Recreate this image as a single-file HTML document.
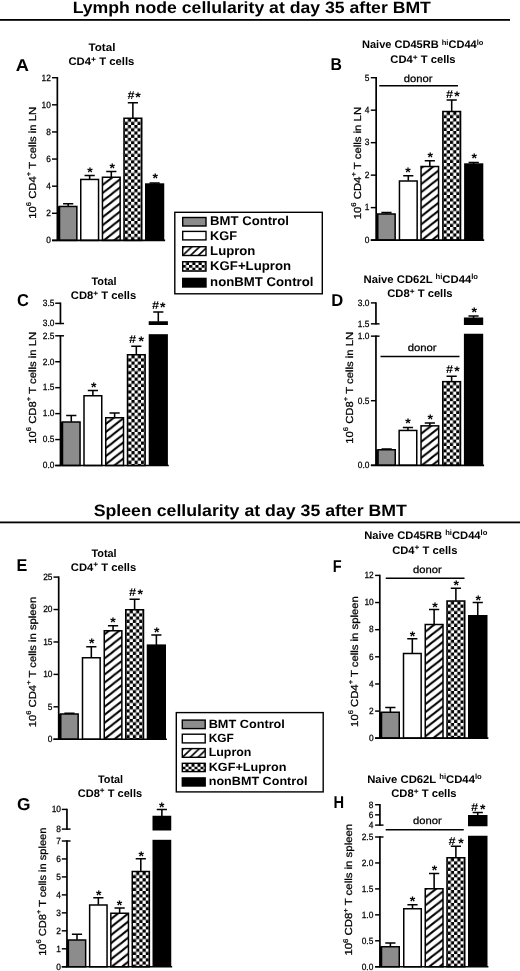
<!DOCTYPE html>
<html lang="en"><head><meta charset="utf-8"><title>Lymph node and spleen cellularity at day 35 after BMT</title>
<style>html,body{margin:0;padding:0;background:#fff}svg{display:block}text{font-family:'Liberation Sans',Arial,Helvetica,sans-serif;fill:#000;text-rendering:geometricPrecision}</style>
</head><body>
<svg width="520" height="971" viewBox="0 0 520 971">
<defs>
<pattern id="hatch" patternUnits="userSpaceOnUse" width="10.242" height="8.05" x="0" y="0"><rect width="10.242" height="8.05" fill="#fff"/><path d="M-10.242 8.05L10.242 -8.05M-10.242 16.1L20.483 -8.05M0 16.1L20.483 0" stroke="#000" stroke-width="1.95" fill="none"/></pattern>
<pattern id="ck0" patternUnits="userSpaceOnUse" width="6.4" height="6.4" x="124.70" y="118.60"><rect width="6.4" height="6.4" fill="#000"/><rect width="3.2" height="3.2" fill="#fff"/><rect x="3.2" y="3.2" width="3.2" height="3.2" fill="#fff"/></pattern>
<pattern id="ck1" patternUnits="userSpaceOnUse" width="6.4" height="6.4" x="443.55" y="111.85"><rect width="6.4" height="6.4" fill="#000"/><rect width="3.2" height="3.2" fill="#fff"/><rect x="3.2" y="3.2" width="3.2" height="3.2" fill="#fff"/></pattern>
<pattern id="ck2" patternUnits="userSpaceOnUse" width="6.4" height="6.4" x="128.20" y="355.10"><rect width="6.4" height="6.4" fill="#000"/><rect width="3.2" height="3.2" fill="#fff"/><rect x="3.2" y="3.2" width="3.2" height="3.2" fill="#fff"/></pattern>
<pattern id="ck3" patternUnits="userSpaceOnUse" width="6.4" height="6.4" x="443.45" y="382.00"><rect width="6.4" height="6.4" fill="#000"/><rect width="3.2" height="3.2" fill="#fff"/><rect x="3.2" y="3.2" width="3.2" height="3.2" fill="#fff"/></pattern>
<pattern id="ck4" patternUnits="userSpaceOnUse" width="6.4" height="6.4" x="126.45" y="610.10"><rect width="6.4" height="6.4" fill="#000"/><rect width="3.2" height="3.2" fill="#fff"/><rect x="3.2" y="3.2" width="3.2" height="3.2" fill="#fff"/></pattern>
<pattern id="ck5" patternUnits="userSpaceOnUse" width="6.4" height="6.4" x="447.70" y="601.35"><rect width="6.4" height="6.4" fill="#000"/><rect width="3.2" height="3.2" fill="#fff"/><rect x="3.2" y="3.2" width="3.2" height="3.2" fill="#fff"/></pattern>
<pattern id="ck6" patternUnits="userSpaceOnUse" width="6.4" height="6.4" x="132.95" y="871.85"><rect width="6.4" height="6.4" fill="#000"/><rect width="3.2" height="3.2" fill="#fff"/><rect x="3.2" y="3.2" width="3.2" height="3.2" fill="#fff"/></pattern>
<pattern id="ck7" patternUnits="userSpaceOnUse" width="6.4" height="6.4" x="447.70" y="858.10"><rect width="6.4" height="6.4" fill="#000"/><rect width="3.2" height="3.2" fill="#fff"/><rect x="3.2" y="3.2" width="3.2" height="3.2" fill="#fff"/></pattern>
<pattern id="hatchL" patternUnits="userSpaceOnUse" width="7.800" height="7.410" x="183.4" y="247.4"><rect width="7.800" height="7.410" fill="#fff"/><path d="M-7.800 7.410L7.800 -7.410M-7.800 14.820L15.600 -7.410M0 14.820L15.600 0" stroke="#000" stroke-width="1.6" fill="none"/></pattern>
<pattern id="chkL" patternUnits="userSpaceOnUse" width="6.3" height="5.5" x="182.8" y="262.2"><rect width="6.3" height="5.5" fill="#000"/><rect width="3.15" height="2.75" fill="#fff"/><rect x="3.15" y="2.75" width="3.15" height="2.75" fill="#fff"/></pattern>
<pattern id="hatchM" patternUnits="userSpaceOnUse" width="7.800" height="7.410" x="183.0" y="749.3"><rect width="7.800" height="7.410" fill="#fff"/><path d="M-7.800 7.410L7.800 -7.410M-7.800 14.820L15.600 -7.410M0 14.820L15.600 0" stroke="#000" stroke-width="1.6" fill="none"/></pattern>
<pattern id="chkM" patternUnits="userSpaceOnUse" width="6.0" height="5.2" x="182.5" y="764.1"><rect width="6.0" height="5.2" fill="#000"/><rect width="3.0" height="2.6" fill="#fff"/><rect x="3.0" y="2.6" width="3.0" height="2.6" fill="#fff"/></pattern>
</defs>
<rect width="520" height="971" fill="#fff"/>
<text x="72.70" y="13.20" font-size="16.4" font-weight="bold" textLength="358.20" lengthAdjust="spacingAndGlyphs">Lymph node cellularity at day 35 after BMT</text>
<rect x="0" y="19" width="510" height="1.8" fill="#000"/>
<text x="93.70" y="516.00" font-size="16.4" font-weight="bold" textLength="313.20" lengthAdjust="spacingAndGlyphs">Spleen cellularity at day 35 after BMT</text>
<rect x="0" y="521.5" width="520" height="1.8" fill="#000"/>
<rect x="59.50" y="206.45" width="17.35" height="33.95" fill="#8c8c8c" stroke="#000" stroke-width="1.5"/>
<path d="M63.07 203.75H73.27M68.17 203.75V206.30" stroke="#000" stroke-width="1.55" fill="none"/>
<rect x="80.75" y="179.45" width="17.80" height="60.95" fill="#fff" stroke="#000" stroke-width="1.5"/>
<path d="M84.55 175.50H94.75M89.65 175.50V179.30" stroke="#000" stroke-width="1.55" fill="none"/>
<rect x="102.45" y="177.25" width="17.70" height="63.15" fill="url(#hatch)" stroke="#000" stroke-width="1.5"/>
<path d="M106.20 171.50H116.40M111.30 171.50V177.10" stroke="#000" stroke-width="1.55" fill="none"/>
<rect x="124.00" y="118.25" width="17.75" height="122.15" fill="url(#ck0)" stroke="#000" stroke-width="1.5"/>
<path d="M127.78 102.70H137.97M132.88 102.70V118.10" stroke="#000" stroke-width="1.55" fill="none"/>
<rect x="145.00" y="183.30" width="19.25" height="57.10" fill="#000"/>
<path d="M149.53 183.00H159.72M154.62 183.00V183.90" stroke="#000" stroke-width="1.55" fill="none"/>
<rect x="57.35" y="206.20" width="2.00" height="34.20" fill="#000"/>
<path d="M57.35 77.00V241.10" stroke="#000" stroke-width="1.7" fill="none"/>
<path d="M52.00 77.70H57.35" stroke="#000" stroke-width="1.45" fill="none"/>
<text x="41.49" y="80.50" font-size="9.1" textLength="9.31" lengthAdjust="spacingAndGlyphs" stroke="#000" stroke-width="0.25">12</text>
<path d="M52.00 104.82H57.35" stroke="#000" stroke-width="1.45" fill="none"/>
<text x="41.49" y="107.62" font-size="9.1" textLength="9.31" lengthAdjust="spacingAndGlyphs" stroke="#000" stroke-width="0.25">10</text>
<path d="M52.00 131.94H57.35" stroke="#000" stroke-width="1.45" fill="none"/>
<text x="46.15" y="134.74" font-size="9.1" textLength="4.65" lengthAdjust="spacingAndGlyphs" stroke="#000" stroke-width="0.25">8</text>
<path d="M52.00 159.06H57.35" stroke="#000" stroke-width="1.45" fill="none"/>
<text x="46.15" y="161.86" font-size="9.1" textLength="4.65" lengthAdjust="spacingAndGlyphs" stroke="#000" stroke-width="0.25">6</text>
<path d="M52.00 186.18H57.35" stroke="#000" stroke-width="1.45" fill="none"/>
<text x="46.15" y="188.98" font-size="9.1" textLength="4.65" lengthAdjust="spacingAndGlyphs" stroke="#000" stroke-width="0.25">4</text>
<path d="M52.00 213.30H57.35" stroke="#000" stroke-width="1.45" fill="none"/>
<text x="46.15" y="216.10" font-size="9.1" textLength="4.65" lengthAdjust="spacingAndGlyphs" stroke="#000" stroke-width="0.25">2</text>
<path d="M52.00 240.42H57.35" stroke="#000" stroke-width="1.45" fill="none"/>
<text x="46.15" y="243.22" font-size="9.1" textLength="4.65" lengthAdjust="spacingAndGlyphs" stroke="#000" stroke-width="0.25">0</text>
<path d="M52.00 240.40H165.15" stroke="#000" stroke-width="1.7" fill="none"/>
<text x="87.30" y="176.52" font-size="14" font-weight="bold">*</text>
<text x="109.40" y="173.42" font-size="14" font-weight="bold">*</text>
<text x="152.40" y="183.12" font-size="14" font-weight="bold">*</text>
<text x="127.45" y="98.80" font-size="11.5" font-weight="bold" textLength="7.10" lengthAdjust="spacingAndGlyphs">#</text>
<text x="135.30" y="101.62" font-size="14" font-weight="bold">*</text>
<text x="88.45" y="50.90" font-size="11.0" font-weight="bold" textLength="26.95" lengthAdjust="spacingAndGlyphs">Total</text>
<text x="68.45" y="65.10" font-size="11.0" font-weight="bold" textLength="65.95" lengthAdjust="spacingAndGlyphs">CD4<tspan dy="-3.3" font-size="8.2">+</tspan><tspan dy="3.3"> T cells</tspan></text>
<text x="15.70" y="71.05" font-size="17.2" font-weight="bold" textLength="13.20" lengthAdjust="spacingAndGlyphs">A</text>
<text transform="translate(35.70 218.70) rotate(-90)" font-size="10.2" stroke="#000" stroke-width="0.25" textLength="111.80" lengthAdjust="spacingAndGlyphs">10<tspan dy="-4.5" font-size="6.8">6</tspan><tspan dy="4.5"> CD4</tspan><tspan dy="-4.5" font-size="6.8">+</tspan><tspan dy="4.5"> T cells in LN</tspan></text>
<rect x="377.75" y="214.00" width="17.40" height="26.10" fill="#8c8c8c" stroke="#000" stroke-width="1.5"/>
<path d="M381.35 212.60H391.55M386.45 212.60V213.85" stroke="#000" stroke-width="1.55" fill="none"/>
<rect x="399.45" y="181.00" width="17.70" height="59.10" fill="#fff" stroke="#000" stroke-width="1.5"/>
<path d="M403.20 175.80H413.40M408.30 175.80V180.85" stroke="#000" stroke-width="1.55" fill="none"/>
<rect x="421.05" y="166.50" width="17.50" height="73.60" fill="url(#hatch)" stroke="#000" stroke-width="1.5"/>
<path d="M424.70 160.80H434.90M429.80 160.80V166.35" stroke="#000" stroke-width="1.55" fill="none"/>
<rect x="442.85" y="111.50" width="17.70" height="128.60" fill="url(#ck1)" stroke="#000" stroke-width="1.5"/>
<path d="M446.60 100.00H456.80M451.70 100.00V111.35" stroke="#000" stroke-width="1.55" fill="none"/>
<rect x="464.10" y="163.30" width="19.20" height="76.80" fill="#000"/>
<path d="M468.60 162.40H478.80M473.70 162.40V163.90" stroke="#000" stroke-width="1.55" fill="none"/>
<rect x="376.15" y="213.75" width="1.45" height="26.35" fill="#000"/>
<path d="M376.15 77.00V240.80" stroke="#000" stroke-width="1.7" fill="none"/>
<path d="M370.80 77.70H376.15" stroke="#000" stroke-width="1.45" fill="none"/>
<text x="364.85" y="80.50" font-size="9.1" textLength="4.65" lengthAdjust="spacingAndGlyphs" stroke="#000" stroke-width="0.25">5</text>
<path d="M370.80 110.18H376.15" stroke="#000" stroke-width="1.45" fill="none"/>
<text x="364.85" y="112.98" font-size="9.1" textLength="4.65" lengthAdjust="spacingAndGlyphs" stroke="#000" stroke-width="0.25">4</text>
<path d="M370.80 142.66H376.15" stroke="#000" stroke-width="1.45" fill="none"/>
<text x="364.85" y="145.46" font-size="9.1" textLength="4.65" lengthAdjust="spacingAndGlyphs" stroke="#000" stroke-width="0.25">3</text>
<path d="M370.80 175.14H376.15" stroke="#000" stroke-width="1.45" fill="none"/>
<text x="364.85" y="177.94" font-size="9.1" textLength="4.65" lengthAdjust="spacingAndGlyphs" stroke="#000" stroke-width="0.25">2</text>
<path d="M370.80 207.62H376.15" stroke="#000" stroke-width="1.45" fill="none"/>
<text x="364.85" y="210.42" font-size="9.1" textLength="4.65" lengthAdjust="spacingAndGlyphs" stroke="#000" stroke-width="0.25">1</text>
<path d="M370.80 240.10H376.15" stroke="#000" stroke-width="1.45" fill="none"/>
<text x="364.85" y="242.90" font-size="9.1" textLength="4.65" lengthAdjust="spacingAndGlyphs" stroke="#000" stroke-width="0.25">0</text>
<path d="M370.80 240.10H484.20" stroke="#000" stroke-width="1.7" fill="none"/>
<text x="405.20" y="176.62" font-size="14" font-weight="bold">*</text>
<text x="427.50" y="162.12" font-size="14" font-weight="bold">*</text>
<text x="471.45" y="162.62" font-size="14" font-weight="bold">*</text>
<text x="446.00" y="97.80" font-size="11.5" font-weight="bold" textLength="7.10" lengthAdjust="spacingAndGlyphs">#</text>
<text x="454.15" y="100.92" font-size="14" font-weight="bold">*</text>
<text x="403.70" y="81.60" font-size="10.2" textLength="28.70" lengthAdjust="spacingAndGlyphs" stroke="#000" stroke-width="0.25">donor</text>
<path d="M379.30 85.80H458.00" stroke="#000" stroke-width="1.4" fill="none"/>
<text x="362.00" y="48.40" font-size="11.0" font-weight="bold" textLength="121.40" lengthAdjust="spacingAndGlyphs">Naive CD45RB <tspan dy="-3.8" font-size="7.5">hi</tspan><tspan dy="3.8">CD44</tspan><tspan dy="-3.8" font-size="7.5">lo</tspan></text>
<text x="390.30" y="63.20" font-size="11.0" font-weight="bold" textLength="65.30" lengthAdjust="spacingAndGlyphs">CD4<tspan dy="-3.3" font-size="8.2">+</tspan><tspan dy="3.3"> T cells</tspan></text>
<text x="330.50" y="69.70" font-size="17.2" font-weight="bold" textLength="11.40" lengthAdjust="spacingAndGlyphs">B</text>
<text transform="translate(360.70 219.30) rotate(-90)" font-size="10.2" stroke="#000" stroke-width="0.25" textLength="112.40" lengthAdjust="spacingAndGlyphs">10<tspan dy="-4.5" font-size="6.8">6</tspan><tspan dy="4.5"> CD4</tspan><tspan dy="-4.5" font-size="6.8">+</tspan><tspan dy="4.5"> T cells in LN</tspan></text>
<rect x="62.50" y="422.00" width="17.55" height="43.50" fill="#8c8c8c" stroke="#000" stroke-width="1.5"/>
<path d="M66.18 415.50H76.38M71.28 415.50V421.85" stroke="#000" stroke-width="1.55" fill="none"/>
<rect x="84.00" y="395.75" width="17.75" height="69.75" fill="#fff" stroke="#000" stroke-width="1.5"/>
<path d="M87.78 390.50H97.97M92.88 390.50V395.60" stroke="#000" stroke-width="1.55" fill="none"/>
<rect x="105.75" y="417.75" width="17.75" height="47.75" fill="url(#hatch)" stroke="#000" stroke-width="1.5"/>
<path d="M109.53 413.00H119.72M114.62 413.00V417.60" stroke="#000" stroke-width="1.55" fill="none"/>
<rect x="127.50" y="354.75" width="17.65" height="110.75" fill="url(#ck2)" stroke="#000" stroke-width="1.5"/>
<path d="M131.22 346.25H141.42M136.32 346.25V354.60" stroke="#000" stroke-width="1.55" fill="none"/>
<rect x="148.70" y="334.20" width="19.20" height="131.30" fill="#000"/>
<rect x="148.70" y="321.25" width="19.20" height="3.75" fill="#000"/>
<path d="M153.20 312.00H163.40M158.30 312.00V321.85" stroke="#000" stroke-width="1.55" fill="none"/>
<rect x="60.45" y="421.75" width="1.90" height="43.75" fill="#000"/>
<path d="M60.45 302.50V324.20" stroke="#000" stroke-width="1.7" fill="none"/>
<path d="M60.45 335.10V466.20" stroke="#000" stroke-width="1.7" fill="none"/>
<path d="M55.20 303.20H60.45" stroke="#000" stroke-width="1.45" fill="none"/>
<text x="42.76" y="306.00" font-size="9.1" textLength="11.64" lengthAdjust="spacingAndGlyphs" stroke="#000" stroke-width="0.25">3.5</text>
<path d="M55.20 323.50H64.05" stroke="#000" stroke-width="1.45" fill="none"/>
<text x="42.76" y="326.30" font-size="9.1" textLength="11.64" lengthAdjust="spacingAndGlyphs" stroke="#000" stroke-width="0.25">3.0</text>
<path d="M55.20 335.80H64.05" stroke="#000" stroke-width="1.45" fill="none"/>
<text x="42.76" y="338.60" font-size="9.1" textLength="11.64" lengthAdjust="spacingAndGlyphs" stroke="#000" stroke-width="0.25">2.5</text>
<path d="M55.20 361.74H60.45" stroke="#000" stroke-width="1.45" fill="none"/>
<text x="42.76" y="364.54" font-size="9.1" textLength="11.64" lengthAdjust="spacingAndGlyphs" stroke="#000" stroke-width="0.25">2.0</text>
<path d="M55.20 387.68H60.45" stroke="#000" stroke-width="1.45" fill="none"/>
<text x="42.76" y="390.48" font-size="9.1" textLength="11.64" lengthAdjust="spacingAndGlyphs" stroke="#000" stroke-width="0.25">1.5</text>
<path d="M55.20 413.62H60.45" stroke="#000" stroke-width="1.45" fill="none"/>
<text x="42.76" y="416.42" font-size="9.1" textLength="11.64" lengthAdjust="spacingAndGlyphs" stroke="#000" stroke-width="0.25">1.0</text>
<path d="M55.20 439.56H60.45" stroke="#000" stroke-width="1.45" fill="none"/>
<text x="42.76" y="442.36" font-size="9.1" textLength="11.64" lengthAdjust="spacingAndGlyphs" stroke="#000" stroke-width="0.25">0.5</text>
<path d="M55.20 465.50H60.45" stroke="#000" stroke-width="1.45" fill="none"/>
<text x="42.76" y="468.30" font-size="9.1" textLength="11.64" lengthAdjust="spacingAndGlyphs" stroke="#000" stroke-width="0.25">0.0</text>
<path d="M55.20 465.50H168.80" stroke="#000" stroke-width="1.7" fill="none"/>
<text x="90.95" y="392.32" font-size="14" font-weight="bold">*</text>
<text x="129.00" y="343.30" font-size="11.5" font-weight="bold" textLength="7.10" lengthAdjust="spacingAndGlyphs">#</text>
<text x="138.50" y="345.62" font-size="14" font-weight="bold">*</text>
<text x="151.95" y="309.00" font-size="11.5" font-weight="bold" textLength="7.10" lengthAdjust="spacingAndGlyphs">#</text>
<text x="160.00" y="312.42" font-size="14" font-weight="bold">*</text>
<text x="91.40" y="285.30" font-size="11.0" font-weight="bold" textLength="25.20" lengthAdjust="spacingAndGlyphs">Total</text>
<text x="70.80" y="299.40" font-size="11.0" font-weight="bold" textLength="65.40" lengthAdjust="spacingAndGlyphs">CD8<tspan dy="-3.3" font-size="8.2">+</tspan><tspan dy="3.3"> T cells</tspan></text>
<text x="16.90" y="306.30" font-size="17.2" font-weight="bold" textLength="11.90" lengthAdjust="spacingAndGlyphs">C</text>
<text transform="translate(35.70 443.70) rotate(-90)" font-size="10.2" stroke="#000" stroke-width="0.25" textLength="111.80" lengthAdjust="spacingAndGlyphs">10<tspan dy="-4.5" font-size="6.8">6</tspan><tspan dy="4.5"> CD8</tspan><tspan dy="-4.5" font-size="6.8">+</tspan><tspan dy="4.5"> T cells in LN</tspan></text>
<rect x="378.05" y="449.75" width="17.20" height="15.55" fill="#8c8c8c" stroke="#000" stroke-width="1.5"/>
<path d="M381.55 448.90H391.75M386.65 448.90V449.60" stroke="#000" stroke-width="1.55" fill="none"/>
<rect x="399.15" y="430.45" width="17.60" height="34.85" fill="#fff" stroke="#000" stroke-width="1.5"/>
<path d="M402.85 427.50H413.05M407.95 427.50V430.30" stroke="#000" stroke-width="1.55" fill="none"/>
<rect x="421.05" y="425.85" width="17.60" height="39.45" fill="url(#hatch)" stroke="#000" stroke-width="1.5"/>
<path d="M424.75 423.00H434.95M429.85 423.00V425.70" stroke="#000" stroke-width="1.55" fill="none"/>
<rect x="442.75" y="381.65" width="17.75" height="83.65" fill="url(#ck3)" stroke="#000" stroke-width="1.5"/>
<path d="M446.52 376.25H456.73M451.62 376.25V381.50" stroke="#000" stroke-width="1.55" fill="none"/>
<rect x="463.90" y="333.75" width="19.30" height="131.55" fill="#000"/>
<rect x="463.90" y="317.50" width="19.30" height="7.50" fill="#000"/>
<path d="M468.45 316.00H478.65M473.55 316.00V318.10" stroke="#000" stroke-width="1.55" fill="none"/>
<rect x="375.95" y="449.50" width="1.95" height="15.80" fill="#000"/>
<path d="M375.95 302.20V324.55" stroke="#000" stroke-width="1.7" fill="none"/>
<path d="M375.95 335.45V466.00" stroke="#000" stroke-width="1.7" fill="none"/>
<path d="M370.90 302.90H375.95" stroke="#000" stroke-width="1.45" fill="none"/>
<text x="357.86" y="305.70" font-size="9.1" textLength="11.64" lengthAdjust="spacingAndGlyphs" stroke="#000" stroke-width="0.25">3.0</text>
<path d="M370.90 323.85H379.55" stroke="#000" stroke-width="1.45" fill="none"/>
<text x="357.86" y="326.65" font-size="9.1" textLength="11.64" lengthAdjust="spacingAndGlyphs" stroke="#000" stroke-width="0.25">1.5</text>
<path d="M370.90 336.15H379.55" stroke="#000" stroke-width="1.45" fill="none"/>
<text x="357.86" y="338.95" font-size="9.1" textLength="11.64" lengthAdjust="spacingAndGlyphs" stroke="#000" stroke-width="0.25">1.0</text>
<path d="M370.90 400.70H375.95" stroke="#000" stroke-width="1.45" fill="none"/>
<text x="357.86" y="403.50" font-size="9.1" textLength="11.64" lengthAdjust="spacingAndGlyphs" stroke="#000" stroke-width="0.25">0.5</text>
<path d="M370.90 465.30H375.95" stroke="#000" stroke-width="1.45" fill="none"/>
<text x="357.86" y="468.10" font-size="9.1" textLength="11.64" lengthAdjust="spacingAndGlyphs" stroke="#000" stroke-width="0.25">0.0</text>
<path d="M370.90 465.30H484.10" stroke="#000" stroke-width="1.7" fill="none"/>
<text x="405.20" y="428.42" font-size="14" font-weight="bold">*</text>
<text x="427.40" y="423.82" font-size="14" font-weight="bold">*</text>
<text x="471.45" y="316.62" font-size="14" font-weight="bold">*</text>
<text x="446.00" y="372.80" font-size="11.5" font-weight="bold" textLength="7.10" lengthAdjust="spacingAndGlyphs">#</text>
<text x="454.15" y="376.42" font-size="14" font-weight="bold">*</text>
<text x="407.70" y="351.25" font-size="10.2" textLength="28.95" lengthAdjust="spacingAndGlyphs" stroke="#000" stroke-width="0.25">donor</text>
<path d="M380.50 356.50H459.50" stroke="#000" stroke-width="1.4" fill="none"/>
<text x="363.50" y="283.00" font-size="11.0" font-weight="bold" textLength="114.60" lengthAdjust="spacingAndGlyphs">Naive CD62L <tspan dy="-3.8" font-size="7.5">hi</tspan><tspan dy="3.8">CD44</tspan><tspan dy="-3.8" font-size="7.5">lo</tspan></text>
<text x="387.20" y="297.20" font-size="11.0" font-weight="bold" textLength="65.40" lengthAdjust="spacingAndGlyphs">CD8<tspan dy="-3.3" font-size="8.2">+</tspan><tspan dy="3.3"> T cells</tspan></text>
<text x="331.20" y="306.30" font-size="17.2" font-weight="bold" textLength="12.00" lengthAdjust="spacingAndGlyphs">D</text>
<text transform="translate(352.80 443.70) rotate(-90)" font-size="10.2" stroke="#000" stroke-width="0.25" textLength="111.80" lengthAdjust="spacingAndGlyphs">10<tspan dy="-4.5" font-size="6.8">6</tspan><tspan dy="4.5"> CD8</tspan><tspan dy="-4.5" font-size="6.8">+</tspan><tspan dy="4.5"> T cells in LN</tspan></text>
<rect x="60.75" y="714.00" width="17.40" height="25.25" fill="#8c8c8c" stroke="#000" stroke-width="1.5"/>
<path d="M64.35 713.20H74.55M69.45 713.20V713.85" stroke="#000" stroke-width="1.55" fill="none"/>
<rect x="82.50" y="657.75" width="17.65" height="81.50" fill="#fff" stroke="#000" stroke-width="1.5"/>
<path d="M86.23 646.75H96.42M91.33 646.75V657.60" stroke="#000" stroke-width="1.55" fill="none"/>
<rect x="104.25" y="630.75" width="17.60" height="108.50" fill="url(#hatch)" stroke="#000" stroke-width="1.5"/>
<path d="M107.95 625.75H118.15M113.05 625.75V630.60" stroke="#000" stroke-width="1.55" fill="none"/>
<rect x="125.75" y="609.75" width="17.75" height="129.50" fill="url(#ck4)" stroke="#000" stroke-width="1.5"/>
<path d="M129.53 599.25H139.72M134.62 599.25V609.60" stroke="#000" stroke-width="1.55" fill="none"/>
<rect x="146.75" y="644.40" width="19.25" height="94.85" fill="#000"/>
<path d="M151.28 635.00H161.47M156.38 635.00V645.00" stroke="#000" stroke-width="1.55" fill="none"/>
<rect x="58.70" y="713.75" width="1.90" height="25.50" fill="#000"/>
<path d="M58.70 576.40V739.95" stroke="#000" stroke-width="1.7" fill="none"/>
<path d="M53.50 577.10H58.70" stroke="#000" stroke-width="1.45" fill="none"/>
<text x="43.19" y="579.90" font-size="9.1" textLength="9.31" lengthAdjust="spacingAndGlyphs" stroke="#000" stroke-width="0.25">25</text>
<path d="M53.50 609.53H58.70" stroke="#000" stroke-width="1.45" fill="none"/>
<text x="43.19" y="612.33" font-size="9.1" textLength="9.31" lengthAdjust="spacingAndGlyphs" stroke="#000" stroke-width="0.25">20</text>
<path d="M53.50 641.96H58.70" stroke="#000" stroke-width="1.45" fill="none"/>
<text x="43.19" y="644.76" font-size="9.1" textLength="9.31" lengthAdjust="spacingAndGlyphs" stroke="#000" stroke-width="0.25">15</text>
<path d="M53.50 674.39H58.70" stroke="#000" stroke-width="1.45" fill="none"/>
<text x="43.19" y="677.19" font-size="9.1" textLength="9.31" lengthAdjust="spacingAndGlyphs" stroke="#000" stroke-width="0.25">10</text>
<path d="M53.50 706.82H58.70" stroke="#000" stroke-width="1.45" fill="none"/>
<text x="47.85" y="709.62" font-size="9.1" textLength="4.65" lengthAdjust="spacingAndGlyphs" stroke="#000" stroke-width="0.25">5</text>
<path d="M53.50 739.25H58.70" stroke="#000" stroke-width="1.45" fill="none"/>
<text x="47.85" y="742.05" font-size="9.1" textLength="4.65" lengthAdjust="spacingAndGlyphs" stroke="#000" stroke-width="0.25">0</text>
<path d="M53.50 739.25H166.90" stroke="#000" stroke-width="1.7" fill="none"/>
<text x="88.95" y="647.62" font-size="14" font-weight="bold">*</text>
<text x="110.20" y="626.62" font-size="14" font-weight="bold">*</text>
<text x="153.95" y="636.62" font-size="14" font-weight="bold">*</text>
<text x="129.00" y="596.30" font-size="11.5" font-weight="bold" textLength="7.10" lengthAdjust="spacingAndGlyphs">#</text>
<text x="137.40" y="599.42" font-size="14" font-weight="bold">*</text>
<text x="91.40" y="556.60" font-size="11.0" font-weight="bold" textLength="25.20" lengthAdjust="spacingAndGlyphs">Total</text>
<text x="70.80" y="570.70" font-size="11.0" font-weight="bold" textLength="65.40" lengthAdjust="spacingAndGlyphs">CD4<tspan dy="-3.3" font-size="8.2">+</tspan><tspan dy="3.3"> T cells</tspan></text>
<text x="16.60" y="571.30" font-size="17.2" font-weight="bold" textLength="10.80" lengthAdjust="spacingAndGlyphs">E</text>
<text transform="translate(35.70 727.30) rotate(-90)" font-size="10.2" stroke="#000" stroke-width="0.25" textLength="130.50" lengthAdjust="spacingAndGlyphs">10<tspan dy="-4.5" font-size="6.8">6</tspan><tspan dy="4.5"> CD4</tspan><tspan dy="-4.5" font-size="6.8">+</tspan><tspan dy="4.5"> T cells in spleen</tspan></text>
<rect x="381.50" y="712.25" width="17.75" height="25.95" fill="#8c8c8c" stroke="#000" stroke-width="1.5"/>
<path d="M385.27 707.50H395.48M390.38 707.50V712.10" stroke="#000" stroke-width="1.55" fill="none"/>
<rect x="403.50" y="653.50" width="17.65" height="84.70" fill="#fff" stroke="#000" stroke-width="1.5"/>
<path d="M407.22 638.75H417.43M412.32 638.75V653.35" stroke="#000" stroke-width="1.55" fill="none"/>
<rect x="425.25" y="624.50" width="17.75" height="113.70" fill="url(#hatch)" stroke="#000" stroke-width="1.5"/>
<path d="M429.02 609.50H439.23M434.12 609.50V624.35" stroke="#000" stroke-width="1.55" fill="none"/>
<rect x="447.00" y="601.00" width="17.75" height="137.20" fill="url(#ck5)" stroke="#000" stroke-width="1.5"/>
<path d="M450.77 588.25H460.98M455.88 588.25V600.85" stroke="#000" stroke-width="1.55" fill="none"/>
<rect x="468.00" y="615.00" width="19.50" height="123.20" fill="#000"/>
<path d="M472.65 602.50H482.85M477.75 602.50V615.60" stroke="#000" stroke-width="1.55" fill="none"/>
<rect x="379.80" y="712.00" width="1.55" height="26.20" fill="#000"/>
<path d="M379.80 574.70V738.90" stroke="#000" stroke-width="1.7" fill="none"/>
<path d="M375.10 575.40H379.80" stroke="#000" stroke-width="1.45" fill="none"/>
<text x="364.39" y="578.20" font-size="9.1" textLength="9.31" lengthAdjust="spacingAndGlyphs" stroke="#000" stroke-width="0.25">12</text>
<path d="M375.10 602.54H379.80" stroke="#000" stroke-width="1.45" fill="none"/>
<text x="364.39" y="605.34" font-size="9.1" textLength="9.31" lengthAdjust="spacingAndGlyphs" stroke="#000" stroke-width="0.25">10</text>
<path d="M375.10 629.68H379.80" stroke="#000" stroke-width="1.45" fill="none"/>
<text x="369.05" y="632.48" font-size="9.1" textLength="4.65" lengthAdjust="spacingAndGlyphs" stroke="#000" stroke-width="0.25">8</text>
<path d="M375.10 656.82H379.80" stroke="#000" stroke-width="1.45" fill="none"/>
<text x="369.05" y="659.62" font-size="9.1" textLength="4.65" lengthAdjust="spacingAndGlyphs" stroke="#000" stroke-width="0.25">6</text>
<path d="M375.10 683.96H379.80" stroke="#000" stroke-width="1.45" fill="none"/>
<text x="369.05" y="686.76" font-size="9.1" textLength="4.65" lengthAdjust="spacingAndGlyphs" stroke="#000" stroke-width="0.25">4</text>
<path d="M375.10 711.10H379.80" stroke="#000" stroke-width="1.45" fill="none"/>
<text x="369.05" y="713.90" font-size="9.1" textLength="4.65" lengthAdjust="spacingAndGlyphs" stroke="#000" stroke-width="0.25">2</text>
<path d="M375.10 738.24H379.80" stroke="#000" stroke-width="1.45" fill="none"/>
<text x="369.05" y="741.04" font-size="9.1" textLength="4.65" lengthAdjust="spacingAndGlyphs" stroke="#000" stroke-width="0.25">0</text>
<path d="M375.10 738.20H488.40" stroke="#000" stroke-width="1.7" fill="none"/>
<text x="409.70" y="640.87" font-size="14" font-weight="bold">*</text>
<text x="432.20" y="612.12" font-size="14" font-weight="bold">*</text>
<text x="453.45" y="590.12" font-size="14" font-weight="bold">*</text>
<text x="475.45" y="605.12" font-size="14" font-weight="bold">*</text>
<text x="412.95" y="573.00" font-size="10.2" textLength="28.70" lengthAdjust="spacingAndGlyphs" stroke="#000" stroke-width="0.25">donor</text>
<path d="M385.75 578.25H464.50" stroke="#000" stroke-width="1.4" fill="none"/>
<text x="364.20" y="539.00" font-size="11.0" font-weight="bold" textLength="123.20" lengthAdjust="spacingAndGlyphs">Naive CD45RB <tspan dy="-3.8" font-size="7.5">hi</tspan><tspan dy="3.8">CD44</tspan><tspan dy="-3.8" font-size="7.5">lo</tspan></text>
<text x="392.20" y="553.50" font-size="11.0" font-weight="bold" textLength="65.20" lengthAdjust="spacingAndGlyphs">CD4<tspan dy="-3.3" font-size="8.2">+</tspan><tspan dy="3.3"> T cells</tspan></text>
<text x="332.70" y="572.00" font-size="17.2" font-weight="bold" textLength="8.90" lengthAdjust="spacingAndGlyphs">F</text>
<text transform="translate(357.60 726.90) rotate(-90)" font-size="10.2" stroke="#000" stroke-width="0.25" textLength="130.80" lengthAdjust="spacingAndGlyphs">10<tspan dy="-4.5" font-size="6.8">6</tspan><tspan dy="4.5"> CD4</tspan><tspan dy="-4.5" font-size="6.8">+</tspan><tspan dy="4.5"> T cells in spleen</tspan></text>
<rect x="68.35" y="940.00" width="17.30" height="26.75" fill="#8c8c8c" stroke="#000" stroke-width="1.5"/>
<path d="M71.90 934.25H82.10M77.00 934.25V939.85" stroke="#000" stroke-width="1.55" fill="none"/>
<rect x="89.65" y="905.00" width="17.40" height="61.75" fill="#fff" stroke="#000" stroke-width="1.5"/>
<path d="M93.25 897.75H103.45M98.35 897.75V904.85" stroke="#000" stroke-width="1.55" fill="none"/>
<rect x="110.85" y="913.25" width="17.60" height="53.50" fill="url(#hatch)" stroke="#000" stroke-width="1.5"/>
<path d="M114.55 908.00H124.75M119.65 908.00V913.10" stroke="#000" stroke-width="1.55" fill="none"/>
<rect x="132.25" y="871.50" width="17.10" height="95.25" fill="url(#ck6)" stroke="#000" stroke-width="1.5"/>
<path d="M135.70 858.75H145.90M140.80 858.75V871.35" stroke="#000" stroke-width="1.55" fill="none"/>
<rect x="152.50" y="839.80" width="18.75" height="126.95" fill="#000"/>
<rect x="152.50" y="815.75" width="18.75" height="14.75" fill="#000"/>
<path d="M156.78 809.50H166.97M161.88 809.50V816.35" stroke="#000" stroke-width="1.55" fill="none"/>
<rect x="66.95" y="939.75" width="1.25" height="27.00" fill="#000"/>
<path d="M66.95 808.70V829.80" stroke="#000" stroke-width="1.7" fill="none"/>
<path d="M66.95 840.30V967.45" stroke="#000" stroke-width="1.7" fill="none"/>
<path d="M61.80 809.40H66.95" stroke="#000" stroke-width="1.45" fill="none"/>
<text x="51.69" y="812.20" font-size="9.1" textLength="9.31" lengthAdjust="spacingAndGlyphs" stroke="#000" stroke-width="0.25">10</text>
<path d="M61.80 829.10H70.55" stroke="#000" stroke-width="1.45" fill="none"/>
<text x="56.35" y="831.90" font-size="9.1" textLength="4.65" lengthAdjust="spacingAndGlyphs" stroke="#000" stroke-width="0.25">8</text>
<path d="M61.80 841.00H70.55" stroke="#000" stroke-width="1.45" fill="none"/>
<text x="56.35" y="843.80" font-size="9.1" textLength="4.65" lengthAdjust="spacingAndGlyphs" stroke="#000" stroke-width="0.25">7</text>
<path d="M61.80 858.96H66.95" stroke="#000" stroke-width="1.45" fill="none"/>
<text x="56.35" y="861.76" font-size="9.1" textLength="4.65" lengthAdjust="spacingAndGlyphs" stroke="#000" stroke-width="0.25">6</text>
<path d="M61.80 876.93H66.95" stroke="#000" stroke-width="1.45" fill="none"/>
<text x="56.35" y="879.73" font-size="9.1" textLength="4.65" lengthAdjust="spacingAndGlyphs" stroke="#000" stroke-width="0.25">5</text>
<path d="M61.80 894.89H66.95" stroke="#000" stroke-width="1.45" fill="none"/>
<text x="56.35" y="897.69" font-size="9.1" textLength="4.65" lengthAdjust="spacingAndGlyphs" stroke="#000" stroke-width="0.25">4</text>
<path d="M61.80 912.86H66.95" stroke="#000" stroke-width="1.45" fill="none"/>
<text x="56.35" y="915.66" font-size="9.1" textLength="4.65" lengthAdjust="spacingAndGlyphs" stroke="#000" stroke-width="0.25">3</text>
<path d="M61.80 930.82H66.95" stroke="#000" stroke-width="1.45" fill="none"/>
<text x="56.35" y="933.62" font-size="9.1" textLength="4.65" lengthAdjust="spacingAndGlyphs" stroke="#000" stroke-width="0.25">2</text>
<path d="M61.80 948.78H66.95" stroke="#000" stroke-width="1.45" fill="none"/>
<text x="56.35" y="951.58" font-size="9.1" textLength="4.65" lengthAdjust="spacingAndGlyphs" stroke="#000" stroke-width="0.25">1</text>
<path d="M61.80 966.75H66.95" stroke="#000" stroke-width="1.45" fill="none"/>
<text x="56.35" y="969.55" font-size="9.1" textLength="4.65" lengthAdjust="spacingAndGlyphs" stroke="#000" stroke-width="0.25">0</text>
<path d="M61.80 966.75H172.15" stroke="#000" stroke-width="1.7" fill="none"/>
<text x="96.00" y="900.32" font-size="14" font-weight="bold">*</text>
<text x="116.80" y="910.42" font-size="14" font-weight="bold">*</text>
<text x="138.45" y="861.37" font-size="14" font-weight="bold">*</text>
<text x="158.95" y="812.12" font-size="14" font-weight="bold">*</text>
<text x="97.90" y="782.50" font-size="11.0" font-weight="bold" textLength="25.20" lengthAdjust="spacingAndGlyphs">Total</text>
<text x="77.70" y="796.50" font-size="11.0" font-weight="bold" textLength="64.40" lengthAdjust="spacingAndGlyphs">CD8<tspan dy="-3.3" font-size="8.2">+</tspan><tspan dy="3.3"> T cells</tspan></text>
<text x="16.90" y="810.10" font-size="17.2" font-weight="bold" textLength="13.50" lengthAdjust="spacingAndGlyphs">G</text>
<text transform="translate(45.50 955.80) rotate(-90)" font-size="10.2" stroke="#000" stroke-width="0.25" textLength="128.20" lengthAdjust="spacingAndGlyphs">10<tspan dy="-4.5" font-size="6.8">6</tspan><tspan dy="4.5"> CD8</tspan><tspan dy="-4.5" font-size="6.8">+</tspan><tspan dy="4.5"> T cells in spleen</tspan></text>
<rect x="381.50" y="946.75" width="17.75" height="20.00" fill="#8c8c8c" stroke="#000" stroke-width="1.5"/>
<path d="M385.27 943.00H395.48M390.38 943.00V946.60" stroke="#000" stroke-width="1.55" fill="none"/>
<rect x="403.75" y="908.75" width="17.50" height="58.00" fill="#fff" stroke="#000" stroke-width="1.5"/>
<path d="M407.40 904.75H417.60M412.50 904.75V908.60" stroke="#000" stroke-width="1.55" fill="none"/>
<rect x="425.25" y="888.75" width="17.75" height="78.00" fill="url(#hatch)" stroke="#000" stroke-width="1.5"/>
<path d="M429.02 873.40H439.23M434.12 873.40V888.60" stroke="#000" stroke-width="1.55" fill="none"/>
<rect x="447.00" y="857.75" width="17.75" height="109.00" fill="url(#ck7)" stroke="#000" stroke-width="1.5"/>
<path d="M450.77 846.25H460.98M455.88 846.25V857.60" stroke="#000" stroke-width="1.55" fill="none"/>
<rect x="468.00" y="835.75" width="19.50" height="131.00" fill="#000"/>
<rect x="468.00" y="815.00" width="19.50" height="11.25" fill="#000"/>
<path d="M472.65 812.50H482.85M477.75 812.50V815.60" stroke="#000" stroke-width="1.55" fill="none"/>
<rect x="379.90" y="946.50" width="1.45" height="20.25" fill="#000"/>
<path d="M379.90 804.00V825.80" stroke="#000" stroke-width="1.7" fill="none"/>
<path d="M379.90 836.30V967.45" stroke="#000" stroke-width="1.7" fill="none"/>
<path d="M375.10 804.70H379.90" stroke="#000" stroke-width="1.45" fill="none"/>
<text x="368.65" y="807.50" font-size="9.1" textLength="4.65" lengthAdjust="spacingAndGlyphs" stroke="#000" stroke-width="0.25">8</text>
<path d="M375.10 814.85H379.90" stroke="#000" stroke-width="1.45" fill="none"/>
<text x="368.65" y="817.65" font-size="9.1" textLength="4.65" lengthAdjust="spacingAndGlyphs" stroke="#000" stroke-width="0.25">6</text>
<path d="M375.10 825.10H383.50" stroke="#000" stroke-width="1.45" fill="none"/>
<text x="368.65" y="827.90" font-size="9.1" textLength="4.65" lengthAdjust="spacingAndGlyphs" stroke="#000" stroke-width="0.25">4</text>
<path d="M375.10 837.00H383.50" stroke="#000" stroke-width="1.45" fill="none"/>
<text x="361.66" y="839.80" font-size="9.1" textLength="11.64" lengthAdjust="spacingAndGlyphs" stroke="#000" stroke-width="0.25">2.5</text>
<path d="M375.10 862.95H379.90" stroke="#000" stroke-width="1.45" fill="none"/>
<text x="361.66" y="865.75" font-size="9.1" textLength="11.64" lengthAdjust="spacingAndGlyphs" stroke="#000" stroke-width="0.25">2.0</text>
<path d="M375.10 888.90H379.90" stroke="#000" stroke-width="1.45" fill="none"/>
<text x="361.66" y="891.70" font-size="9.1" textLength="11.64" lengthAdjust="spacingAndGlyphs" stroke="#000" stroke-width="0.25">1.5</text>
<path d="M375.10 914.85H379.90" stroke="#000" stroke-width="1.45" fill="none"/>
<text x="361.66" y="917.65" font-size="9.1" textLength="11.64" lengthAdjust="spacingAndGlyphs" stroke="#000" stroke-width="0.25">1.0</text>
<path d="M375.10 940.80H379.90" stroke="#000" stroke-width="1.45" fill="none"/>
<text x="361.66" y="943.60" font-size="9.1" textLength="11.64" lengthAdjust="spacingAndGlyphs" stroke="#000" stroke-width="0.25">0.5</text>
<path d="M375.10 966.75H379.90" stroke="#000" stroke-width="1.45" fill="none"/>
<text x="361.66" y="969.55" font-size="9.1" textLength="11.64" lengthAdjust="spacingAndGlyphs" stroke="#000" stroke-width="0.25">0.0</text>
<path d="M375.10 966.75H488.40" stroke="#000" stroke-width="1.7" fill="none"/>
<text x="409.70" y="906.37" font-size="14" font-weight="bold">*</text>
<text x="431.70" y="875.37" font-size="14" font-weight="bold">*</text>
<text x="448.50" y="844.60" font-size="11.5" font-weight="bold" textLength="7.10" lengthAdjust="spacingAndGlyphs">#</text>
<text x="458.30" y="848.02" font-size="14" font-weight="bold">*</text>
<text x="471.00" y="810.60" font-size="11.5" font-weight="bold" textLength="7.10" lengthAdjust="spacingAndGlyphs">#</text>
<text x="480.10" y="813.92" font-size="14" font-weight="bold">*</text>
<text x="412.95" y="824.25" font-size="10.2" textLength="28.70" lengthAdjust="spacingAndGlyphs" stroke="#000" stroke-width="0.25">donor</text>
<path d="M385.70 829.80H463.75" stroke="#000" stroke-width="1.4" fill="none"/>
<text x="367.20" y="783.00" font-size="11.0" font-weight="bold" textLength="114.60" lengthAdjust="spacingAndGlyphs">Naive CD62L <tspan dy="-3.8" font-size="7.5">hi</tspan><tspan dy="3.8">CD44</tspan><tspan dy="-3.8" font-size="7.5">lo</tspan></text>
<text x="391.20" y="797.20" font-size="11.0" font-weight="bold" textLength="65.40" lengthAdjust="spacingAndGlyphs">CD8<tspan dy="-3.3" font-size="8.2">+</tspan><tspan dy="3.3"> T cells</tspan></text>
<text x="333.40" y="808.30" font-size="17.2" font-weight="bold" textLength="10.60" lengthAdjust="spacingAndGlyphs">H</text>
<text transform="translate(352.40 955.60) rotate(-90)" font-size="10.2" stroke="#000" stroke-width="0.25" textLength="131.80" lengthAdjust="spacingAndGlyphs">10<tspan dy="-4.5" font-size="6.8">6</tspan><tspan dy="4.5"> CD8</tspan><tspan dy="-4.5" font-size="6.8">+</tspan><tspan dy="4.5"> T cells in spleen</tspan></text>
<rect x="174.80" y="212.30" width="147.50" height="81.50" fill="#fff" stroke="#000" stroke-width="1.4"/>
<rect x="182.70" y="217.50" width="23.30" height="8.50" fill="#8c8c8c" stroke="#000" stroke-width="1.4"/>
<text x="210.10" y="225.00" font-size="12.7" font-weight="bold" textLength="78.80" lengthAdjust="spacingAndGlyphs">BMT Control</text>
<rect x="182.70" y="231.40" width="23.30" height="8.50" fill="#fff" stroke="#000" stroke-width="1.4"/>
<text x="210.10" y="239.60" font-size="12.7" font-weight="bold" textLength="27.10" lengthAdjust="spacingAndGlyphs">KGF</text>
<rect x="182.70" y="246.70" width="23.30" height="8.80" fill="url(#hatchL)" stroke="#000" stroke-width="1.4"/>
<text x="210.10" y="255.00" font-size="12.7" font-weight="bold" textLength="45.30" lengthAdjust="spacingAndGlyphs">Lupron</text>
<rect x="182.70" y="261.70" width="23.30" height="9.40" fill="url(#chkL)" stroke="#000" stroke-width="1.4"/>
<text x="210.10" y="270.40" font-size="12.7" font-weight="bold" textLength="80.90" lengthAdjust="spacingAndGlyphs">KGF+Lupron</text>
<rect x="182.00" y="277.70" width="24.70" height="10.00" fill="#000"/>
<text x="210.10" y="286.40" font-size="12.7" font-weight="bold" textLength="103.30" lengthAdjust="spacingAndGlyphs">nonBMT Control</text>
<rect x="176.30" y="712.60" width="146.90" height="79.30" fill="#fff" stroke="#000" stroke-width="1.4"/>
<rect x="182.30" y="720.10" width="22.90" height="8.50" fill="#8c8c8c" stroke="#000" stroke-width="1.4"/>
<text x="208.70" y="727.90" font-size="11.9" font-weight="bold" textLength="76.20" lengthAdjust="spacingAndGlyphs">BMT Control</text>
<rect x="182.30" y="734.20" width="22.90" height="8.70" fill="#fff" stroke="#000" stroke-width="1.4"/>
<text x="208.70" y="741.90" font-size="11.9" font-weight="bold" textLength="25.20" lengthAdjust="spacingAndGlyphs">KGF</text>
<rect x="182.30" y="748.60" width="22.90" height="8.70" fill="url(#hatchM)" stroke="#000" stroke-width="1.4"/>
<text x="208.70" y="756.30" font-size="11.9" font-weight="bold" textLength="42.70" lengthAdjust="spacingAndGlyphs">Lupron</text>
<rect x="182.30" y="763.30" width="22.90" height="8.30" fill="url(#chkM)" stroke="#000" stroke-width="1.4"/>
<text x="208.70" y="770.80" font-size="11.9" font-weight="bold" textLength="77.70" lengthAdjust="spacingAndGlyphs">KGF+Lupron</text>
<rect x="181.60" y="777.20" width="24.30" height="9.50" fill="#000"/>
<text x="208.70" y="785.30" font-size="11.9" font-weight="bold" textLength="98.70" lengthAdjust="spacingAndGlyphs">nonBMT Control</text>
</svg></body></html>
